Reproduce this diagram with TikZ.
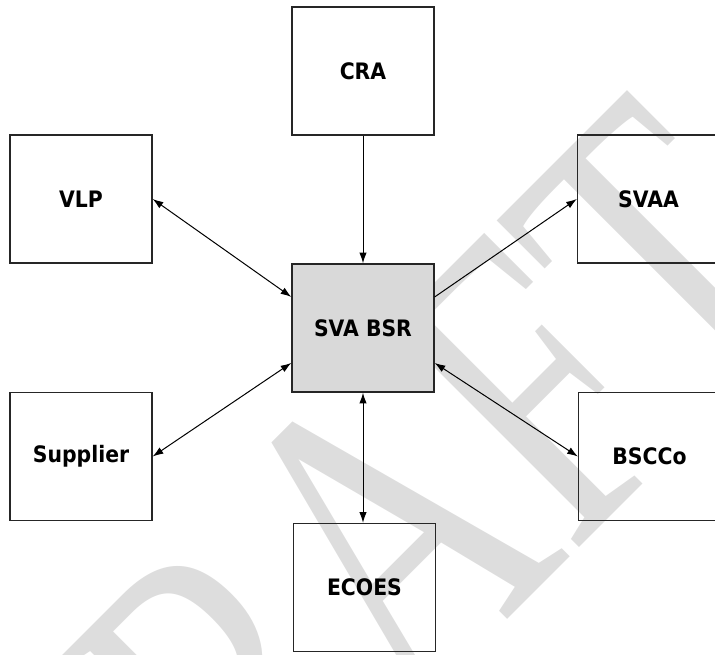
\documentclass[tikz,border=0pt]{standalone}
\usepackage{fontspec}
\usetikzlibrary{arrows.meta,calc}
\newfontfamily\lblfont[FakeStretch=0.9]{DejaVu Sans}
\newfontfamily\wmfont{Liberation Serif}
\definecolor{wmgray}{RGB}{221,221,221}
\definecolor{bsrfill}{RGB}{217,217,217}
\begin{document}
\begin{tikzpicture}[x=0.75pt,y=-0.75pt,
  box/.style={draw=black!85, line width=1pt, minimum width=106.5pt, minimum height=96pt,
    inner sep=0pt, font=\lblfont\bfseries\fontsize{17}{20}\selectfont},
  link/.style={line width=0.75pt, draw=black},
  tipend/.style={-{Latex[length=8pt,width=5.5pt]}},
  tipboth/.style={{Latex[length=8pt,width=5.5pt]}-{Latex[length=8pt,width=5.5pt]}},
  watermark/.style={inner sep=0pt, text=wmgray, font=\wmfont\fontsize{240}{240}\selectfont}]
\useasboundingbox (0,0) rectangle (715,655);
\clip (0,0) rectangle (715,655);
% watermark
\node[watermark, rotate=45, anchor=base west] (wm) at (94,1033) {\scalebox{1}[1.38]{DRAFT}};
% boxes
\node[box] (cra) at (363,71) {CRA};
\node[box] (vlp) at (81,199) {VLP};
\node[box] (svaa) at (648.5,199) {SVAA};
\node[box, fill=bsrfill] (bsr) at (363,328) {SVA BSR};
\node[box] (sup) at (81,456.5) {Supplier};
\node[box] (bscco) at (649.5,456.5) {BSCCo};
\node[box] (ecoes) at (364.5,587.5) {ECOES};
% connection points on SVA BSR
\coordinate (bsrNW) at ($(bsr.north west)!0.26!(bsr.south west)$);
\coordinate (bsrSW) at ($(bsr.north west)!0.77!(bsr.south west)$);
\coordinate (bsrNE) at ($(bsr.north east)!0.26!(bsr.south east)$);
\coordinate (bsrSE) at ($(bsr.north east)!0.77!(bsr.south east)$);
% connectors
\draw[link, tipend] (cra.south) -- (bsr.north);
\draw[link, tipboth] (vlp.east) -- (bsrNW);
\draw[link, tipend] (bsrNE) -- (svaa.west);
\draw[link, tipboth] (sup.east) -- (bsrSW);
\draw[link, tipboth] (bsrSE) -- (bscco.west);
\draw[link, tipboth] (bsr.south) -- (bsr.south |- ecoes.north);
\end{tikzpicture}
\end{document}
